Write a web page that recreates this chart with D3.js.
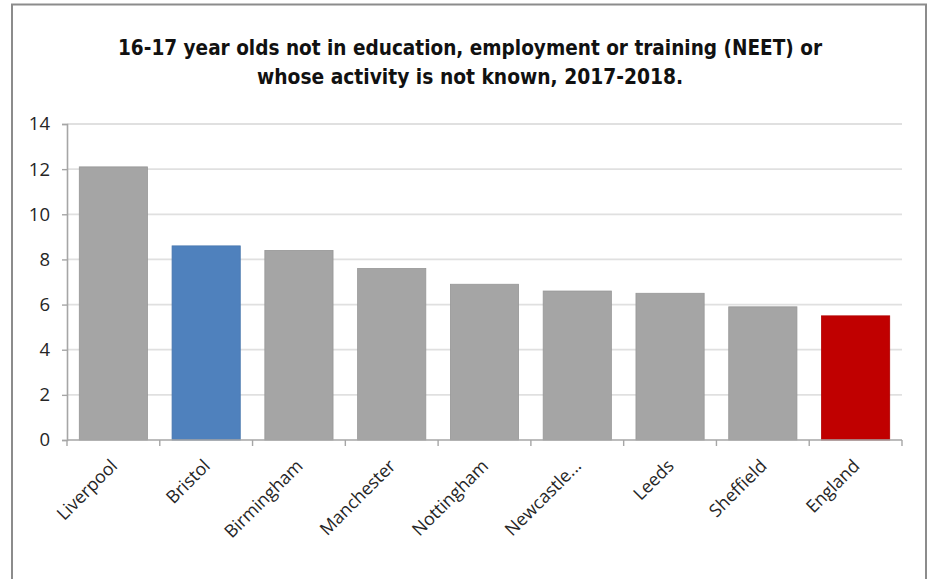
<!DOCTYPE html>
<html>
<head>
<meta charset="utf-8">
<script src="https://cdn.jsdelivr.net/npm/d3@7"></script>
<style>
  html, body { margin: 0; padding: 0; background: #fff; }
  svg { display: block; }
</style>
</head>
<body>
<svg id="chart" width="933" height="579"></svg>
<script>
// NEET or activity not known, 16-17 year olds, 2017-2018 (%)
const categories = ["Liverpool", "Bristol", "Birmingham", "Manchester", "Nottingham", "Newcastle...", "Leeds", "Sheffield", "England"];
const values = [12.1, 8.6, 8.4, 7.6, 6.9, 6.6, 6.5, 5.9, 5.5];
const yTicks = [0, 2, 4, 6, 8, 10, 12, 14];
const titleLines = [
  "16-17 year olds not in education, employment or training (NEET) or",
  "whose activity is not known, 2017-2018."
];
const barColors = { Bristol: "#4F81BD", England: "#C00000" };
const defaultColor = "#A5A5A5";

const svg = d3.select("#chart");
const W = 933, H = 579;
const plot = { left: 67, right: 902, top: 124, bottom: 440 };

// outer frame
svg.append("rect")
  .attr("x", 12).attr("y", 4.5)
  .attr("width", 926 - 12).attr("height", H + 10)
  .attr("fill", "#fff")
  .attr("stroke", "#8C8C8C").attr("stroke-width", 2);

// title
const titleFont = "'DejaVu Sans Condensed', 'Liberation Sans Narrow', 'DejaVu Sans', sans-serif";
const titleWidths = [704, 426];
titleLines.forEach((t, i) => {
  svg.append("text")
    .attr("x", 470).attr("y", 55 + i * 28.5)
    .attr("text-anchor", "middle")
    .attr("font-family", titleFont)
    .attr("font-weight", "bold")
    .attr("font-size", 21.5)
    .attr("fill", "#111")
    .attr("textLength", titleWidths[i])
    .attr("lengthAdjust", "spacingAndGlyphs")
    .text(t);
});

const x = d3.scaleBand()
  .domain(categories)
  .range([plot.left, plot.right])
  .paddingInner(0.265)
  .paddingOuter(0.1325);

const y = d3.scaleLinear()
  .domain([0, 14])
  .range([plot.bottom, plot.top]);

const labelFont = "'Open Sans', 'Liberation Sans', sans-serif";

// horizontal gridlines
svg.append("g")
  .selectAll("line")
  .data(yTicks.filter(d => d > 0))
  .join("line")
  .attr("x1", plot.left).attr("x2", plot.right)
  .attr("y1", d => y(d)).attr("y2", d => y(d))
  .attr("stroke", "#E0E0E0").attr("stroke-width", 1.8);

// bars
svg.append("g")
  .selectAll("rect")
  .data(categories.map((c, i) => ({ c, v: values[i] })))
  .join("rect")
  .attr("x", d => x(d.c))
  .attr("y", d => y(d.v))
  .attr("width", x.bandwidth())
  .attr("height", d => y(0) - y(d.v))
  .attr("fill", d => barColors[d.c] || defaultColor)
  .attr("stroke", d => d3.color(barColors[d.c] || defaultColor).darker(0.25))
  .attr("stroke-width", 0.8);

// y axis
const yAxis = d3.axisLeft(y).tickValues(yTicks).tickSize(5).tickPadding(12);
const yg = svg.append("g")
  .attr("transform", `translate(${plot.left},0)`)
  .call(yAxis);
yg.select(".domain").attr("stroke", "#A6A6A6").attr("stroke-width", 1.6);
yg.selectAll(".tick line").attr("stroke", "#A6A6A6").attr("stroke-width", 1.4);
yg.selectAll(".tick text")
  .attr("font-family", labelFont)
  .attr("font-size", 18.5)
  .attr("fill", "#262626");

// x axis: baseline with tick marks at band boundaries
const step = x.step();
const boundaries = d3.range(categories.length + 1).map(i => plot.left + i * step);
const xg = svg.append("g");
xg.append("line")
  .attr("x1", plot.left).attr("x2", plot.right)
  .attr("y1", plot.bottom).attr("y2", plot.bottom)
  .attr("stroke", "#A6A6A6").attr("stroke-width", 1.6);
xg.selectAll("line.tk")
  .data(boundaries)
  .join("line")
  .attr("class", "tk")
  .attr("x1", d => d).attr("x2", d => d)
  .attr("y1", plot.bottom).attr("y2", plot.bottom + 6)
  .attr("stroke", "#A6A6A6").attr("stroke-width", 1.4);

// rotated category labels
xg.selectAll("text")
  .data(categories)
  .join("text")
  .attr("transform", d => {
    const cx = x(d) + x.bandwidth() / 2 + 5;
    const cy = plot.bottom + 27;
    return `translate(${cx},${cy}) rotate(-45)`;
  })
  .attr("text-anchor", "end")
  .attr("font-family", labelFont)
  .attr("font-size", 17.8)
  .attr("fill", "#262626")
  .text(d => d);
</script>
</body>
</html>
